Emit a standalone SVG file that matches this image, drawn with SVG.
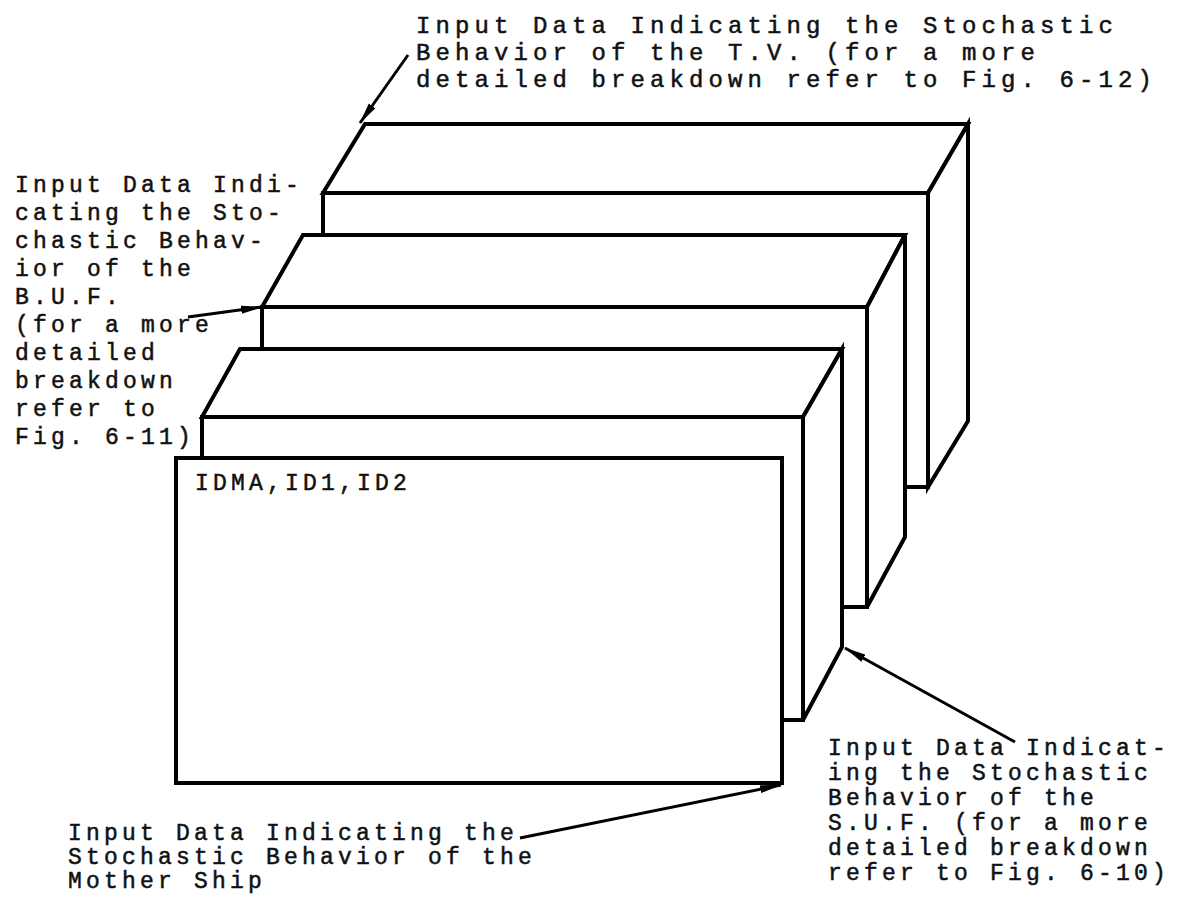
<svg xmlns="http://www.w3.org/2000/svg" width="1188" height="916" viewBox="0 0 1188 916">
<style>
.face{fill:#fff;stroke:#000;stroke-width:4;stroke-linejoin:miter}
.lbl{font-family:"Liberation Mono","DejaVu Sans Mono",monospace;font-size:23px;letter-spacing:4.2px;fill:#111;stroke:#111;stroke-width:0.5}
.wide{font-size:24px;letter-spacing:5.1px}
.conn{stroke:#000;stroke-width:3;fill:none;marker-end:url(#ah)}
</style>
<defs>
<marker id="ah" viewBox="0 0 22 10" refX="21" refY="5" markerWidth="22" markerHeight="10" markerUnits="userSpaceOnUse" orient="auto">
<path d="M0,1 L22,5 L0,9 z" fill="#000"/>
</marker>
</defs>
<rect width="1188" height="916" fill="#fff"/>

<g id="box-tv">
<polygon class="face" points="365,124 968,124 928,193 323,193"/>
<polygon class="face" points="928,193 968,124 968,421 928,487"/>
<rect class="face" x="323" y="193" width="605" height="294"/>
</g>

<g id="box-buf">
<polygon class="face" points="303,235 905,235 867,307 262,307"/>
<polygon class="face" points="867,307 905,235 905,537 867,607"/>
<rect class="face" x="262" y="307" width="605" height="300"/>
</g>

<g id="box-suf">
<polygon class="face" points="240,349 842,349 803,417 202,417"/>
<polygon class="face" points="803,417 842,349 842,647 803,720"/>
<rect class="face" x="202" y="417" width="601" height="303"/>
</g>

<g id="box-ms">
<rect class="face" x="176" y="458" width="606" height="325"/>
<text class="lbl" x="195" y="490">IDMA,ID1,ID2</text>
</g>

<g id="connectors">
<line class="conn" x1="408" y1="55" x2="360" y2="123"/>
<line class="conn" x1="188" y1="317" x2="262" y2="307"/>
<line class="conn" x1="1015" y1="742" x2="845" y2="648"/>
<line class="conn" x1="520" y1="838" x2="781" y2="785"/>
</g>

<g id="label-tv">
<text class="lbl wide" x="416" y="33">Input Data Indicating the Stochastic</text>
<text class="lbl wide" x="416" y="60">Behavior of the T.V. (for a more</text>
<text class="lbl wide" x="416" y="87">detailed breakdown refer to Fig. 6-12)</text>
</g>

<g id="label-buf">
<text class="lbl" x="15" y="192">Input Data Indi-</text>
<text class="lbl" x="15" y="220">cating the Sto-</text>
<text class="lbl" x="15" y="248">chastic Behav-</text>
<text class="lbl" x="15" y="276">ior of the</text>
<text class="lbl" x="15" y="304">B.U.F.</text>
<text class="lbl" x="15" y="332">(for a more</text>
<text class="lbl" x="15" y="360">detailed</text>
<text class="lbl" x="15" y="388">breakdown</text>
<text class="lbl" x="15" y="416">refer to</text>
<text class="lbl" x="15" y="444">Fig. 6-11)</text>
</g>

<g id="label-suf">
<text class="lbl" x="828" y="755">Input Data Indicat-</text>
<text class="lbl" x="828" y="780">ing the Stochastic</text>
<text class="lbl" x="828" y="805">Behavior of the</text>
<text class="lbl" x="828" y="830">S.U.F. (for a more</text>
<text class="lbl" x="828" y="855">detailed breakdown</text>
<text class="lbl" x="828" y="880">refer to Fig. 6-10)</text>
</g>

<g id="label-ms">
<text class="lbl" x="68" y="840">Input Data Indicating the</text>
<text class="lbl" x="68" y="864">Stochastic Behavior of the</text>
<text class="lbl" x="68" y="888">Mother Ship</text>
</g>
</svg>
